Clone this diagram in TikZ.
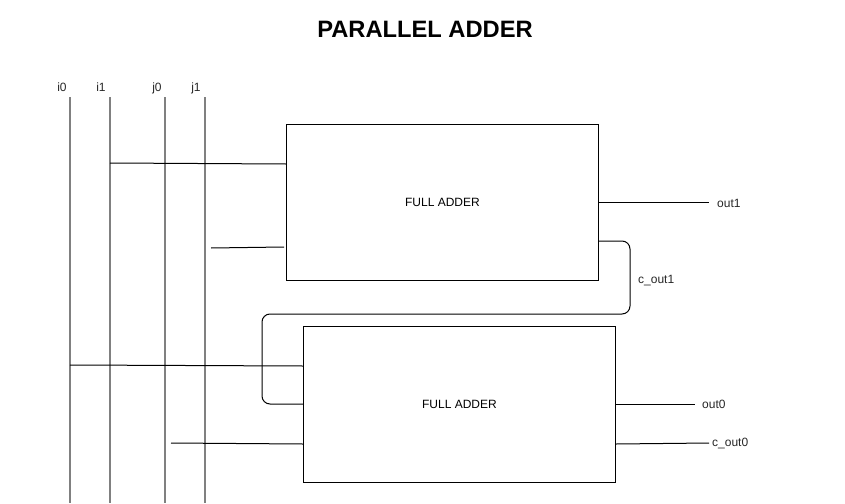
\documentclass[tikz,border=0pt]{standalone}
\usepackage{fontspec}
\setmainfont{Liberation Sans}
\begin{document}
\begin{tikzpicture}[x=1pt,y=-1pt,
  bus/.style={draw=black!50, line width=1.6pt},
  wire/.style={draw=black, line width=1pt},
  fabox/.style={draw=black, line width=1pt, minimum width=312pt, minimum height=156pt, anchor=north west, inner sep=0pt, font=\fontsize{12}{14}\selectfont},
  lbl/.style={inner sep=0pt, font=\fontsize{12}{14}\selectfont, text=black!85},
  inlbl/.style={lbl, anchor=base}]
\useasboundingbox (0,0) rectangle (845,503);
\node[inner sep=0pt, font=\fontsize{23.7}{26}\selectfont\bfseries] (title) at (425,29) {PARALLEL ADDER};
% input labels
\node[inlbl] (li0) at (62,91.5) {i0};
\node[inlbl] (li1) at (101,91.5) {i1};
\node[inlbl] (lj0) at (157,91.5) {j0};
\node[inlbl] (lj1) at (196,91.5) {j1};
% vertical buses
\coordinate (i0t) at (70,97);  \coordinate (i0b) at (70,503);
\coordinate (i1t) at (110,97); \coordinate (i1b) at (110,503);
\coordinate (j0t) at (165,97); \coordinate (j0b) at (165,503);
\coordinate (j1t) at (205,97); \coordinate (j1b) at (205,503);
\draw[bus] (i0t) -- (i0b);
\draw[bus] (i1t) -- (i1b);
\draw[bus] (j0t) -- (j0b);
\draw[bus] (j1t) -- (j1b);
% boxes
\node[fabox] (fa1) at (286,124) {FULL ADDER};
\node[fabox] (fa2) at (303,326) {FULL ADDER};
% inputs to fa1
\coordinate (a1) at (110,163);
\draw[wire] (a1) -- (fa1.west |- 0,164);
\coordinate (b1) at (211,248);
\draw[wire] (b1) -- (284,247);
% outputs fa1
\coordinate (o1) at (709,202);
\draw[wire] (fa1.east |- 0,202) -- (o1);
\node[lbl, anchor=west] (lo1) at (717,203) {out1};
\coordinate (c1a) at (630,241);
\coordinate (c1b) at (630,314);
\coordinate (c1c) at (262,314);
\coordinate (c1d) at (262,404);
\draw[wire, rounded corners=8pt] (fa1.east |- 0,241) -- (c1a) -- (c1b) -- (c1c) -- (c1d) -- (fa2.west |- 0,404);
\node[lbl, anchor=west] (lc1) at (638,281) {c\_out1};
% inputs to fa2
\coordinate (a2) at (70,365);
\draw[wire] (a2) -- (fa2.west |- 0,366);
\coordinate (b2) at (171,443);
\draw[wire] (b2) -- (fa2.west |- 0,444);
% outputs fa2
\coordinate (o0) at (695,404);
\draw[wire] (fa2.east |- 0,404) -- (o0);
\node[lbl, anchor=west] (lo0) at (702,404) {out0};
\coordinate (co0) at (709,443);
\draw[wire] (fa2.east |- 0,444) -- (co0);
\node[lbl, anchor=west] (lc0) at (712,443) {c\_out0};
\end{tikzpicture}
\end{document}
